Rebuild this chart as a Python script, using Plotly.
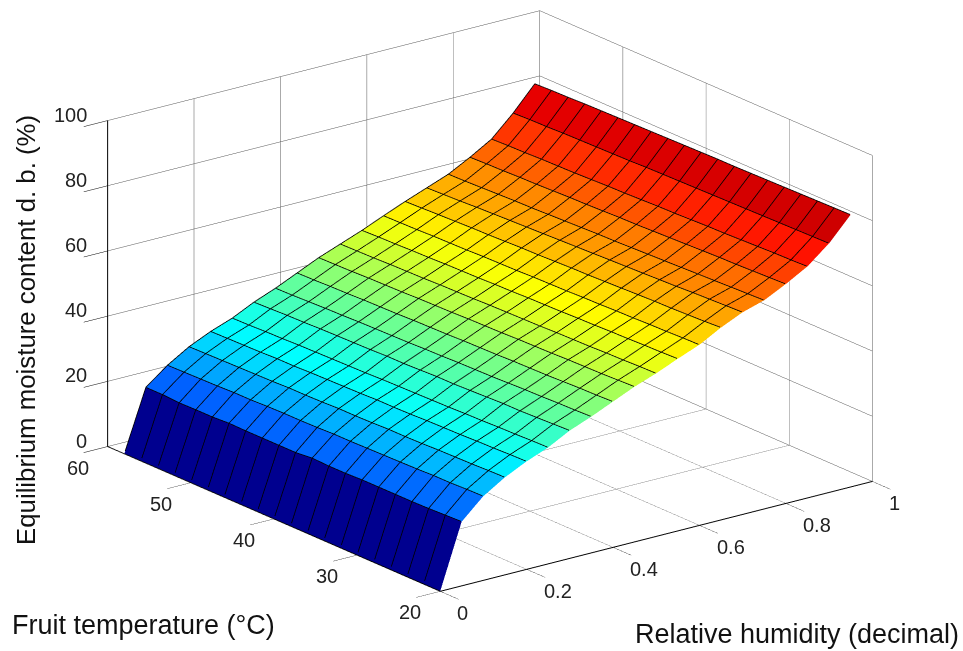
import numpy as np
import plotly.graph_objects as go

relative_humidity = [0.00, 0.05, 0.10, 0.15, 0.20, 0.25, 0.30, 0.35, 0.40, 0.45,
                     0.50, 0.55, 0.60, 0.65, 0.70, 0.75, 0.80, 0.85, 0.90, 0.95]
fruit_temperature = [20, 22, 24, 26, 28, 30, 32, 34, 36, 38,
                     40, 42, 44, 46, 48, 50, 52, 54, 56, 58]
# one row per relative humidity, one column per temperature
moisture_content = [
    [0]*20,
    [19.7,19.5,19.3,19.2,19.2,19.2,19.2,19.0,19.0,19.2,18.7,18.7,18.7,18.7,18.8,18.5,18.5,18.4,18.7,18.7],
    [25.8,25.7,25.5,25.5,25.3,25.2,25.1,25.0,24.9,24.9,24.7,24.6,24.6,24.5,24.3,24.3,24.1,24.0,23.9,23.8],
    [29.9,29.8,29.6,29.5,29.4,29.2,29.1,29.1,28.9,28.8,28.8,28.6,28.5,28.5,28.3,28.2,28.1,28.0,27.9,27.8],
    [33.1,33.0,32.8,32.7,32.5,32.4,32.3,32.1,32.0,32.0,31.8,31.7,31.6,31.5,31.3,31.3,31.1,31.0,30.9,30.8],
    [35.7,35.6,35.4,35.3,35.1,35.0,34.8,34.7,34.6,34.5,34.4,34.2,34.1,34.0,33.9,33.8,33.6,33.5,33.3,33.2],
    [39.2,39.0,38.8,38.6,38.6,38.4,38.2,38.0,38.0,37.8,37.6,37.6,37.4,37.3,37.2,37.1,36.9,36.8,36.6,36.4],
    [41.8,41.6,41.5,41.3,41.2,41.0,40.8,40.7,40.6,40.4,40.3,40.1,40.0,39.9,39.8,39.6,39.5,39.3,39.1,39.0],
    [44.7,44.5,44.4,44.2,44.0,43.9,43.8,43.6,43.5,43.4,43.2,43.1,43.0,42.8,42.7,42.6,42.4,42.3,42.1,42.0],
    [47.6,47.4,47.2,47.1,47.0,46.8,46.7,46.6,46.4,46.3,46.2,46.0,45.9,45.8,45.6,45.5,45.4,45.2,45.1,45.0],
    [50.0,49.9,49.7,49.6,49.4,49.3,49.2,49.0,48.9,48.8,48.7,48.5,48.4,48.3,48.1,48.0,47.9,47.7,47.6,47.5],
    [52.8,52.6,52.5,52.3,52.2,52.0,51.9,51.7,51.6,51.5,51.3,51.2,51.0,50.9,50.8,50.6,50.5,50.3,50.2,50.0],
    [55.4,55.3,55.1,55.0,54.8,54.7,54.5,54.4,54.2,54.1,54.0,53.8,53.7,53.6,53.4,53.3,53.2,53.0,52.9,52.8],
    [59.0,58.7,58.5,58.3,58.2,58.0,57.8,57.6,57.4,57.3,57.1,56.9,56.8,56.6,56.4,56.3,56.1,55.9,55.7,55.5],
    [62.0,61.8,61.6,61.4,61.1,60.9,60.7,60.5,60.3,60.1,59.9,59.7,59.5,59.3,59.1,58.9,58.7,58.4,58.2,58.0],
    [64.0,63.8,63.6,63.4,63.2,63.0,62.8,62.6,62.4,62.2,62.1,61.9,61.7,61.5,61.3,61.2,61.0,60.8,60.6,60.5],
    [67.3,67.1,66.9,66.7,66.6,66.4,66.2,66.0,65.8,65.6,65.5,65.3,65.1,65.0,64.8,64.6,64.5,64.3,64.2,64.0],
    [71.0,70.8,70.7,70.5,70.3,70.1,70.0,69.8,69.6,69.5,69.3,69.1,69.0,68.8,68.6,68.5,68.4,68.2,68.1,67.9],
    [76.4,76.3,76.2,76.1,76.0,75.9,75.8,75.7,75.6,75.5,75.4,75.3,75.1,75.0,74.9,74.8,74.7,74.5,74.4,74.2],
    [83.5,83.4,83.3,83.2,83.1,83.0,82.9,82.8,82.8,82.7,82.6,82.5,82.4,82.3,82.2,82.1,82.0,81.8,81.7,81.5],
]
rh_ticks = [0, 0.2, 0.4, 0.6, 0.8, 1]
rh_tick_labels = ["0", "0.2", "0.4", "0.6", "0.8", "1"]
temp_ticks = [20, 30, 40, 50, 60]
moisture_ticks = [0, 20, 40, 60, 80, 100]

jet = [[0, "#00008F"], [0.125, "#0000FF"], [0.375, "#00FFFF"], [0.625, "#FFFF00"],
       [0.875, "#FF0000"], [1, "#800000"]]

rh = np.array(relative_humidity, float)
tc = np.array(fruit_temperature, float)
Z = np.array(moisture_content, float)

# Every cell gets its own four corners so that it keeps one flat colour (faceted look)
def doubled(n):
    return np.repeat(np.arange(n), 2)[1:-1]

ri, ti = doubled(len(rh)), doubled(len(tc))
rh2 = rh[ri] - np.tile([0.0, 0.0004], len(rh) - 1)
tc2 = tc[ti] - np.tile([0.0, 0.016], len(tc) - 1)
Z2 = Z[np.ix_(ri, ti)]
ci = np.arange(len(ri)) // 2
cj = np.arange(len(ti)) // 2
C2 = Z[np.ix_(ci, cj)]

fig = go.Figure(go.Surface(
    x=rh2, y=tc2, z=Z2.T, surfacecolor=C2.T,
    colorscale=jet, cmin=0, cmax=83, showscale=False,
    lighting=dict(ambient=1, diffuse=0, specular=0, fresnel=0, roughness=1),
    contours=dict(x=dict(show=False, highlight=False), y=dict(show=False, highlight=False),
                  z=dict(show=False, highlight=False)),
    hoverinfo="skip",
))

# black wireframe along every row and column of the table, nudged towards the viewer
# (along the line of sight, so it does not move on screen) to stay above the faces
wx, wy, wz = [], [], []
for i in range(len(rh)):
    wx += [rh[i]] * len(tc) + [None]; wy += list(tc) + [None]; wz += list(Z[i]) + [None]
for j in range(len(tc)):
    wx += list(rh) + [None]; wy += [tc[j]] * len(rh) + [None]; wz += list(Z[:, j]) + [None]
wx = [None if v is None else v - 0.0021 for v in wx]
wy = [None if v is None else v - 0.11 for v in wy]
wz = [None if v is None else v + 0.19 for v in wz]
fig.add_trace(go.Scatter3d(x=wx, y=wy, z=wz, mode="lines",
                           line=dict(color="black", width=1.6), hoverinfo="skip"))

font = "Liberation Sans, Arial, sans-serif"
axis = dict(showbackground=False, showgrid=True, gridcolor="#555555", gridwidth=1,
            showline=True, linecolor="black", linewidth=2, zeroline=False,
            ticks="outside", ticklen=30, tickcolor="black", tickwidth=1, showticklabels=False,
            showspikes=False, title=dict(text=""))
tick_font = dict(family=font, size=20, color="#222222")

scene_labels = []
for v, s in zip(rh_ticks, rh_tick_labels):
    scene_labels.append(dict(x=v, y=20, z=0, text=s, showarrow=False, xanchor="left", yanchor="middle",
                             xshift=15, yshift=-22, font=tick_font))
for v in temp_ticks:
    scene_labels.append(dict(x=0, y=v, z=0, text=str(v), showarrow=False, xanchor="center", yanchor="middle",
                             xshift=-30, yshift=-21, font=tick_font))
for v in moisture_ticks:
    scene_labels.append(dict(x=0, y=60, z=v, text=str(v), showarrow=False, xanchor="right", yanchor="middle",
                             xshift=-19, yshift=6, font=tick_font))

fig.update_layout(
    width=963, height=651, margin=dict(l=0, r=0, t=0, b=0),
    paper_bgcolor="white", showlegend=False,
    scene=dict(
        domain=dict(x=[0.0176, 1], y=[0.0783, 0.9969]),
        xaxis=dict(axis, range=[0, 1], tick0=0, dtick=0.2),
        yaxis=dict(axis, range=[20, 60], tick0=20, dtick=10),
        zaxis=dict(axis, range=[0, 100], tick0=0, dtick=20),
        aspectmode="manual", aspectratio=dict(x=1.819, y=1.832, z=1.156),
        camera=dict(projection=dict(type="orthographic"),
                    eye=dict(x=-1.433, y=-1.875, z=0.8325),
                    center=dict(x=0, y=0, z=0), up=dict(x=0, y=0, z=1)),
        annotations=scene_labels,
    ),
    annotations=[
        dict(text="Equilibrium moisture content d. b. (%)", xref="paper", yref="paper",
             x=26/963, y=1-330/651, xanchor="center", yanchor="middle", textangle=-90, showarrow=False,
             font=dict(family=font, size=25.8, color="#111111")),
        dict(text="Fruit temperature (°C)", xref="paper", yref="paper",
             x=143/963, y=1-625/651, xanchor="center", yanchor="middle", showarrow=False,
             font=dict(family=font, size=27, color="#111111")),
        dict(text="Relative humidity (decimal)", xref="paper", yref="paper",
             x=797/963, y=1-634/651, xanchor="center", yanchor="middle", showarrow=False,
             font=dict(family=font, size=27, color="#111111")),
    ],
)
fig.write_html("out.html", post_script="document.body.style.margin='0';",
               config=dict(displayModeBar=False))
